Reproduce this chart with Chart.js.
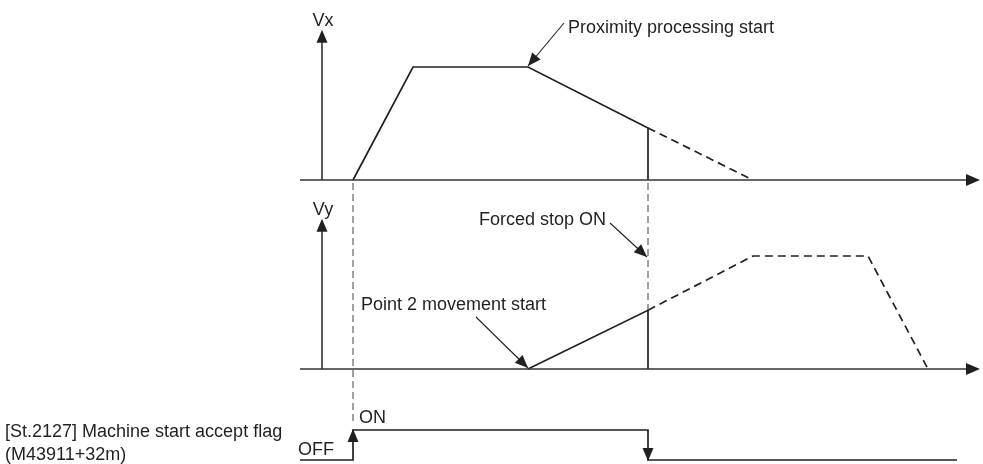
<!DOCTYPE html>
<html>
<head>
<meta charset="utf-8">
<script src="https://cdn.jsdelivr.net/npm/chart.js@4.4.0/dist/chart.umd.min.js"></script>
<style>
  html, body { margin: 0; padding: 0; background: #fff; }
</style>
</head>
<body>
<canvas id="chart" width="983" height="464"></canvas>
<script>
// Time axis (arbitrary units) and marker times
const timeMin = -5.3;
const timeMax = 62.7;
const speedAxisTime = -3.1;   // where the Vx / Vy arrows stand
const speedAxisTop = 133;
const startTime = 0;          // machine start
const proximityTime = 17.5;   // proximity processing start / point 2 start
const stopTime = 29.5;        // forced stop ON

// Vx profile (speed, plateau = 100)
const vxTime = [0, 6, 17.5, 29.5, 29.5];
const vxSpeed = [0, 100, 100, 46, 0];
const vxPlanTime = [29.5, 40];
const vxPlanSpeed = [46, 0];

// Vy profile
const vyTime = [17.5, 29.5, 29.5];
const vySpeed = [0, 52, 0];
const vyPlanTime = [29.5, 40, 51.5, 57.5];
const vyPlanSpeed = [52, 100, 100, 0];

// [St.2127] flag (0 = OFF, 1 = ON)
const flagTime = [-5.3, 0, 0, 29.5, 29.5, 60.4];
const flagState = [0, 0, 1, 1, 0, 0];

const INK = '#231f20';
const FONT = '18px "Liberation Sans", Arial, sans-serif';
const H = 464;

// y range so that valueA sits at pxA and valueB at pxB on a 0..H area
function rangeFor(valueA, pxA, valueB, pxB) {
    const k = (pxA - pxB) / (valueB - valueA);
    return { min: valueA - (H - pxA) / k, max: valueA + pxA / k };
}
const vxRange = rangeFor(0, 180, 100, 67);
const vyRange = rangeFor(0, 369, 100, 256);
const flagRange = rangeFor(0, 460, 1, 430);

function points(xs, ys) {
    return xs.map((x, i) => ({ x: x, y: ys[i] }));
}

function lineSet(xs, ys, axis, dashed) {
    return {
        data: points(xs, ys),
        yAxisID: axis,
        showLine: true,
        borderColor: INK,
        borderWidth: 1.7,
        borderDash: dashed ? [8, 5] : [],
        pointRadius: 0,
        tension: 0,
        clip: false
    };
}

function line(ctx, x1, y1, x2, y2, dash, width, color) {
    ctx.save();
    ctx.strokeStyle = color || INK;
    ctx.lineWidth = width || 1.5;
    ctx.setLineDash(dash || []);
    ctx.beginPath();
    ctx.moveTo(x1, y1);
    ctx.lineTo(x2, y2);
    ctx.stroke();
    ctx.restore();
}

// filled arrow head with its tip at (tx, ty), coming from (fx, fy)
function head(ctx, tx, ty, fx, fy, len, half) {
    const a = Math.atan2(ty - fy, tx - fx);
    ctx.save();
    ctx.fillStyle = INK;
    ctx.beginPath();
    ctx.moveTo(tx, ty);
    ctx.lineTo(tx - len * Math.cos(a) + half * Math.sin(a), ty - len * Math.sin(a) - half * Math.cos(a));
    ctx.lineTo(tx - len * Math.cos(a) - half * Math.sin(a), ty - len * Math.sin(a) + half * Math.cos(a));
    ctx.closePath();
    ctx.fill();
    ctx.restore();
}

function text(ctx, str, x, y, align) {
    ctx.save();
    ctx.font = FONT;
    ctx.fillStyle = INK;
    ctx.textAlign = align || 'left';
    ctx.textBaseline = 'middle';
    ctx.fillText(str, x, y);
    ctx.restore();
}

function callout(ctx, tipX, tipY, dx, dy) {
    line(ctx, tipX + dx, tipY + dy, tipX, tipY, [], 1.1);
    head(ctx, tipX, tipY, tipX + dx, tipY + dy, 13, 5.5);
    return { x: tipX + dx, y: tipY + dy };
}

const diagramPlugin = {
    id: 'diagram',
    afterDatasetsDraw(chart) {
        const ctx = chart.ctx;
        const x = chart.scales.x;
        const yVx = chart.scales.yVx;
        const yVy = chart.scales.yVy;
        const yF = chart.scales.yFlag;
        const left = x.getPixelForValue(timeMin);
        const right = x.getPixelForValue(timeMax);
        const ax = x.getPixelForValue(speedAxisTime);

        // speed axes
        [[yVx, 'Vx'], [yVy, 'Vy']].forEach(function(pair) {
            const s = pair[0];
            const y0 = s.getPixelForValue(0);
            const top = s.getPixelForValue(speedAxisTop);
            line(ctx, left, y0, right - 10, y0, [], 1.6, '#333');
            head(ctx, right, y0, left, y0, 14, 6);
            line(ctx, ax, y0, ax, top + 10, [], 1.6, '#333');
            head(ctx, ax, top, ax, y0, 13, 5.5);
            text(ctx, pair[1], ax + 1, top - 9, 'center');
        });

        // dashed timing markers
        const xs = x.getPixelForValue(startTime);
        const xe = x.getPixelForValue(stopTime);
        line(ctx, xs, yVx.getPixelForValue(0) + 3, xs, yF.getPixelForValue(1) - 8, [7, 4], 1.1, '#555');
        line(ctx, xe, yVx.getPixelForValue(0) + 3, xe, yVy.getPixelForValue(vyPlanSpeed[0]), [7, 4], 1.1, '#555');

        // flag edge arrows
        head(ctx, xs, yF.getPixelForValue(1) - 1, xs, yF.getPixelForValue(0), 13, 5.5);
        head(ctx, xe, yF.getPixelForValue(0) + 1, xe, yF.getPixelForValue(1), 13, 5.5);

        // callouts
        let t = callout(ctx, x.getPixelForValue(proximityTime), yVx.getPixelForValue(100) - 1, 36, -43);
        text(ctx, 'Proximity processing start', t.x + 4, t.y + 5);

        t = callout(ctx, xe - 1, yVy.getPixelForValue(100) + 1, -37, -34);
        text(ctx, 'Forced stop ON', t.x - 4, t.y - 3, 'right');

        t = callout(ctx, x.getPixelForValue(proximityTime), yVy.getPixelForValue(0) - 1, -52, -51);
        text(ctx, 'Point 2 movement start', t.x - 115, t.y - 12);

        // flag texts
        text(ctx, 'ON', xs + 6, yF.getPixelForValue(1) - 12);
        text(ctx, 'OFF', xs - 55, yF.getPixelForValue(0) - 10);
        text(ctx, '[St.2127] Machine start accept flag', 5, yF.getPixelForValue(1) + 2);
        text(ctx, '(M43911+32m)', 5, yF.getPixelForValue(0) - 5);
    }
};

const chart = new Chart(document.getElementById('chart').getContext('2d'), {
    type: 'scatter',
    data: {
        datasets: [
            lineSet(vxTime, vxSpeed, 'yVx', false),
            lineSet(vxPlanTime, vxPlanSpeed, 'yVx', true),
            lineSet(vyTime, vySpeed, 'yVy', false),
            lineSet(vyPlanTime, vyPlanSpeed, 'yVy', true),
            lineSet(flagTime, flagState, 'yFlag', false)
        ]
    },
    options: {
        responsive: false,
        animation: false,
        devicePixelRatio: 1,
        layout: { padding: { left: 300, right: 3, top: 0, bottom: 0 } },
        scales: {
            x: { type: 'linear', min: timeMin, max: timeMax, display: false },
            y: { display: false },
            yVx: { type: 'linear', min: vxRange.min, max: vxRange.max, display: false },
            yVy: { type: 'linear', min: vyRange.min, max: vyRange.max, display: false },
            yFlag: { type: 'linear', min: flagRange.min, max: flagRange.max, display: false }
        },
        plugins: {
            legend: { display: false },
            tooltip: { enabled: false }
        }
    },
    plugins: [diagramPlugin]
});
</script>
</body>
</html>
